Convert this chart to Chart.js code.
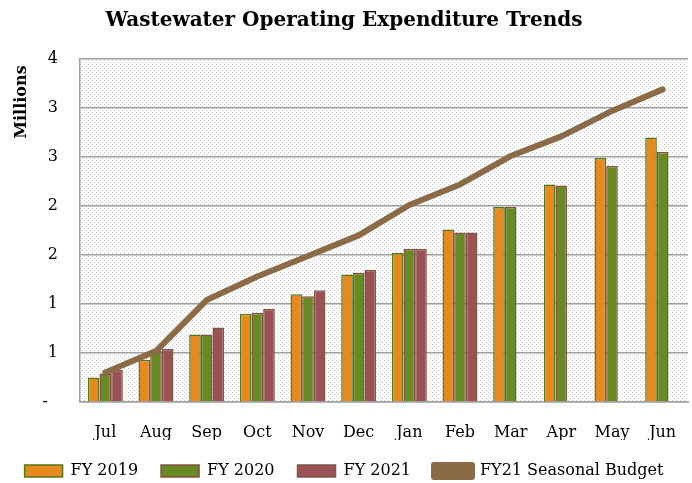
<!DOCTYPE html>
<html><head><meta charset="utf-8">
<script src="https://cdn.jsdelivr.net/npm/chart.js@4/dist/chart.umd.min.js"></script>
<style>html,body{margin:0;padding:0;background:#fff}#wrap{width:692px;height:483px}</style>
</head><body><div id="wrap"><canvas id="c" width="692" height="483"></canvas></div>
<script>
const months = ['Jul','Aug','Sep','Oct','Nov','Dec','Jan','Feb','Mar','Apr','May','Jun'];
const fy2019 = [0.25, 0.43, 0.69, 0.90, 1.10, 1.30, 1.52, 1.76, 1.99, 2.22, 2.49, 2.70];
const fy2020 = [0.29, 0.52, 0.69, 0.91, 1.08, 1.32, 1.56, 1.73, 1.99, 2.21, 2.41, 2.55];
const fy2021 = [0.33, 0.54, 0.76, 0.95, 1.14, 1.35, 1.56, 1.73, null, null, null, null];
const budget = [0.30, 0.52, 1.04, 1.28, 1.49, 1.70, 2.01, 2.22, 2.51, 2.71, 2.97, 3.19];

const SERIF = "'DejaVu Serif', 'Liberation Serif', serif";

function dotPattern(ctx){
  const p = document.createElement('canvas'); p.width = 4; p.height = 4;
  const g = p.getContext('2d');
  g.fillStyle = '#ffffff'; g.fillRect(0,0,4,4);
  g.fillStyle = '#cdcdcd';
  g.fillRect(0,0,1,1); g.fillRect(2,2,1,1);
  return ctx.createPattern(p,'repeat');
}

const bgPlugin = {
  id: 'bgdots',
  beforeDraw(chart){
    const {ctx, chartArea:a} = chart;
    ctx.save();
    ctx.fillStyle = dotPattern(ctx);
    ctx.fillRect(a.left, a.top, a.right-a.left, a.bottom-a.top);
    ctx.restore();
  }
};
const unitPlugin = {
  id: 'unitlabel',
  afterDraw(chart){
    const ctx = chart.ctx;
    ctx.save();
    ctx.translate(22, 102);
    ctx.rotate(-Math.PI/2);
    ctx.font = "bold 16px " + SERIF;
    ctx.fillStyle = '#000';
    ctx.textAlign = 'center'; ctx.textBaseline = 'middle';
    ctx.fillText('Millions', 0, 0);
    ctx.restore();
  }
};

new Chart(document.getElementById('c'), {
  data: {
    labels: months,
    datasets: [
      {type:'bar', label:'FY 2019', data: fy2019, backgroundColor:'#E8891F', borderColor:'#4F7A1A', borderWidth:1.5, order:1},
      {type:'bar', label:'FY 2020', data: fy2020, backgroundColor:'#678A22', borderColor:'#8A4F45', borderWidth:1.5, order:1},
      {type:'bar', label:'FY 2021', data: fy2021, backgroundColor:'#9B5155', borderColor:'#7A5A45', borderWidth:1.5, order:1},
      {type:'line', label:'FY21 Seasonal Budget', data: budget, borderColor:'#8A6A47', backgroundColor:'#8A6A47', borderWidth:6, pointRadius:0, tension:0, borderCapStyle:'round', borderJoinStyle:'round', order:0}
    ]
  },
  options: {
    responsive:false, animation:false,
    layout:{padding:{left:0,right:4,top:0,bottom:-6}},
    datasets:{bar:{categoryPercentage:0.69, barPercentage:1.0}},
    plugins:{
      title:{display:true, text:'Wastewater Operating Expenditure Trends', color:'#000',
        font:{family:SERIF, size:20, weight:'bold'}, padding:{top:9, bottom:26}},
      legend:{position:'bottom', labels:{
        color:'#000', font:{family:SERIF, size:16}, boxWidth:38, boxHeight:12, padding:23,
        sort:(a,b)=>a.datasetIndex-b.datasetIndex
      }},
      tooltip:{enabled:false}
    },
    scales:{
      x:{grid:{display:false, drawTicks:true, tickLength:18}, border:{color:'#a0a0a0', width:1.5},
        ticks:{color:'#000', font:{family:SERIF, size:16}, padding:3},
        afterFit(s){ s.height = 38; }},
      y:{min:0, max:3.5, grid:{color:'#a0a0a0', lineWidth:1.5, drawTicks:false}, border:{color:'#a0a0a0', width:1.5},
        ticks:{stepSize:0.5, color:'#000', font:{family:SERIF, size:16}, padding:22,
          callback:(v)=> v===0 ? '-  ' : String(Math.round(v))},
        afterFit(s){ s.width = 80; }}
    }
  },
  plugins:[bgPlugin, unitPlugin]
});
</script></body></html>
